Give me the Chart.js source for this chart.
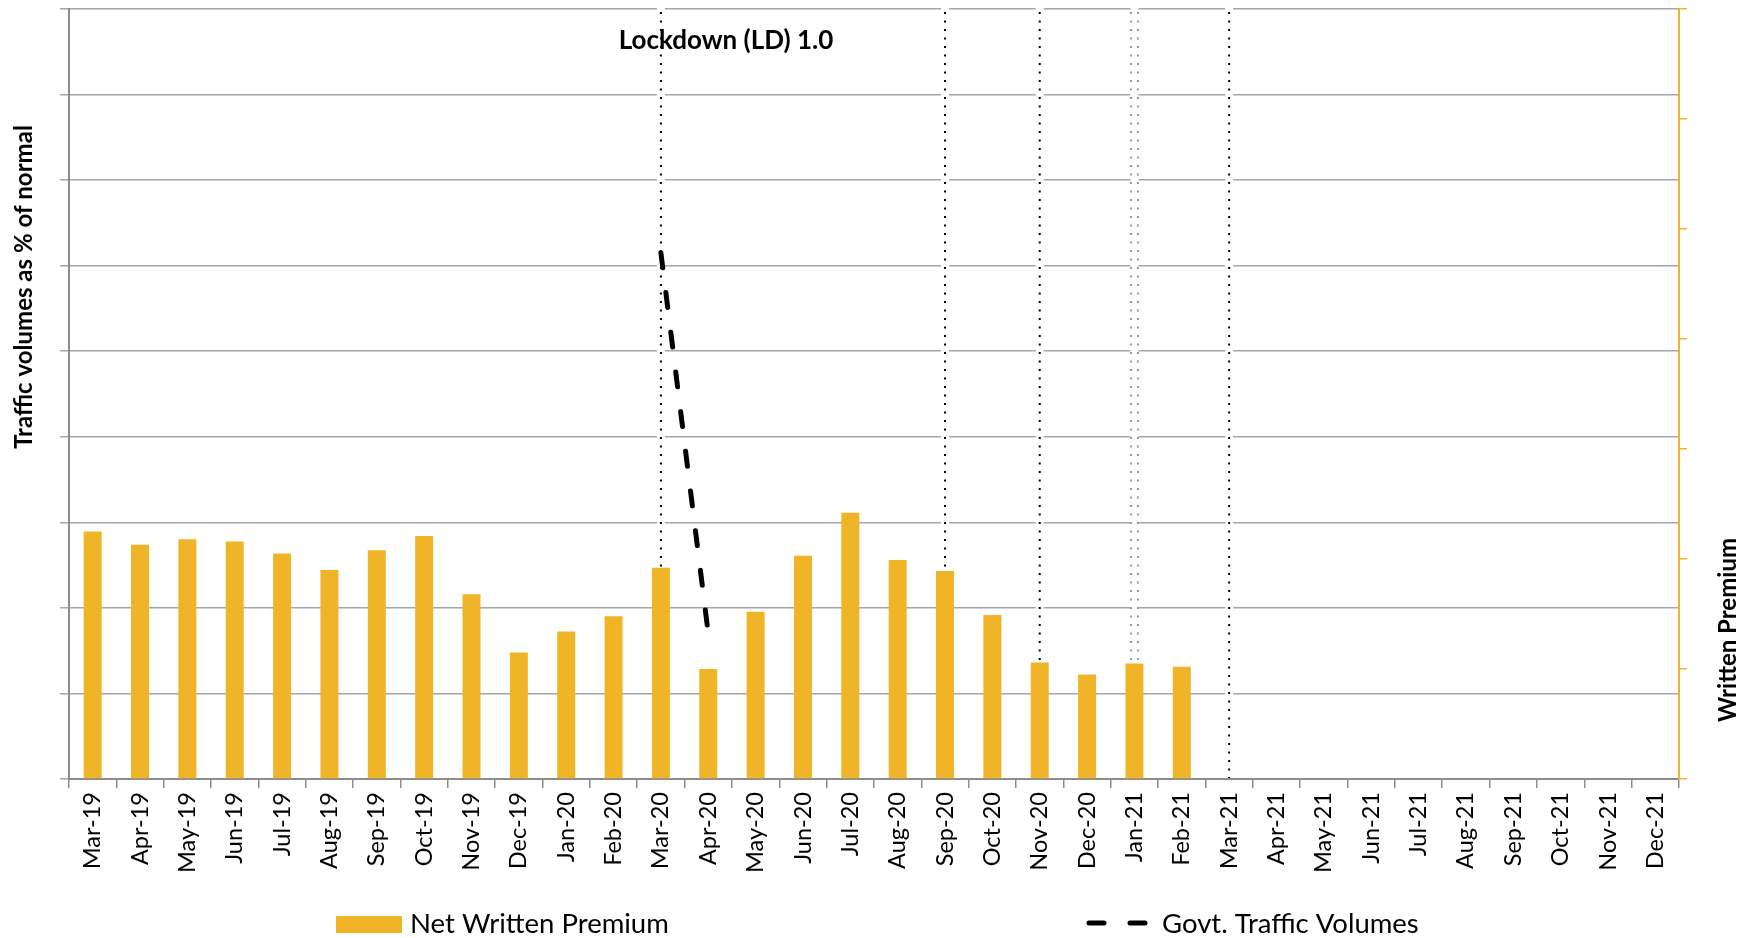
<!DOCTYPE html>
<html>
<head>
<meta charset="utf-8">
<script src="https://cdn.jsdelivr.net/npm/chart.js@4.4.1/dist/chart.umd.min.js"></script>
<style>
  html, body { margin: 0; padding: 0; background: #ffffff; }
  #wrap { position: relative; width: 1746px; height: 938px; }
</style>
</head>
<body>
<div id="wrap"><canvas id="chart"></canvas></div>
<script>
// Monthly categories, Mar-19 to Dec-21
const months = [
  'Mar-19','Apr-19','May-19','Jun-19','Jul-19','Aug-19','Sep-19','Oct-19','Nov-19','Dec-19',
  'Jan-20','Feb-20','Mar-20','Apr-20','May-20','Jun-20','Jul-20','Aug-20','Sep-20','Oct-20',
  'Nov-20','Dec-20','Jan-21','Feb-21','Mar-21','Apr-21','May-21','Jun-21','Jul-21','Aug-21',
  'Sep-21','Oct-21','Nov-21','Dec-21'
];

// Net written premium (right axis)
const netWrittenPremium = [
  22.5, 21.3, 21.8, 21.6, 20.5, 19.0, 20.8, 22.1, 16.8, 11.5,
  13.4, 14.8, 19.2, 10.0, 15.2, 20.3, 24.2, 19.9, 18.9, 14.9,
  10.6, 9.5, 10.5, 10.2, null, null, null, null, null, null,
  null, null, null, null
];

// Government traffic volumes as % of normal (left axis)
const govtTraffic = [
  null, null, null, null, null, null, null, null, null, null,
  null, null, 123, 34, null, null, null, null, null, null,
  null, null, null, null, null, null, null, null, null, null,
  null, null, null, null
];

// Axis ranges (labels hidden)
const trafficAxis = { min: 0, max: 180, step: 20 };
const premiumAxis = { min: 0, max: 70, step: 10 };

// Months marked with vertical dotted reference lines
const markerMonths = ['Mar-20', 'Sep-20', 'Nov-20', 'Jan-21', 'Mar-21'];

const FONT = 'Lato, "Open Sans", sans-serif';
const BAR_COLOR = '#F0B428';
const GRID = '#A6A6A6';
const AXIS = '#8C8C8C';

Chart.defaults.font.family = FONT;
Chart.defaults.color = '#000000';

const decorations = {
  id: 'decorations',
  beforeDatasetsDraw(chart) {
    const { ctx, chartArea, scales } = chart;
    const x = scales.x, yR = scales.yR;
    ctx.save();
    markerMonths.forEach(m => {
      const i = months.indexOf(m);
      const px = x.getPixelForValue(i);
      const v = netWrittenPremium[i];
      const bottom = (v == null) ? chartArea.bottom - 1 : yR.getPixelForValue(v);
      const top = chartArea.top;
      // white backing strip interrupts the gridlines
      ctx.fillStyle = '#ffffff';
      ctx.fillRect(px - 4, top - 1, 8, bottom - top + 1);
      ctx.lineWidth = 2;
      ctx.lineCap = 'butt';
      ctx.setLineDash([2, 6.5]);
      if (m === 'Jan-21') {
        ctx.strokeStyle = '#9a9a9a';
        [-3.5, 3.5].forEach(off => {
          ctx.beginPath();
          ctx.moveTo(px + off, top + 3);
          ctx.lineTo(px + off, bottom);
          ctx.stroke();
        });
      } else {
        ctx.strokeStyle = '#000000';
        ctx.beginPath();
        ctx.moveTo(px, top + 3);
        ctx.lineTo(px, bottom);
        ctx.stroke();
      }
    });
    ctx.restore();
  },
  afterDraw(chart) {
    const { ctx } = chart;
    ctx.save();
    ctx.fillStyle = '#000000';
    ctx.textAlign = 'center';
    ctx.textBaseline = 'middle';

    // Annotation label
    ctx.font = 'bold 26px ' + FONT;
    ctx.fillText('Lockdown (LD) 1.0', 726, 41);

    // Axis titles
    ctx.font = 'bold 24px ' + FONT;
    ctx.save();
    ctx.translate(24, 287);
    ctx.rotate(-Math.PI / 2);
    ctx.fillText('Traffic volumes as % of normal', 0, 0);
    ctx.restore();

    ctx.save();
    ctx.translate(1728, 630);
    ctx.rotate(-Math.PI / 2);
    ctx.fillText('Written Premium', 0, 0);
    ctx.restore();

    // Legend
    const ds0 = chart.data.datasets[0], ds1 = chart.data.datasets[1];
    ctx.fillStyle = ds0.backgroundColor;
    ctx.fillRect(336, 916, 66, 17);
    ctx.fillStyle = '#000000';
    ctx.textAlign = 'left';
    ctx.font = '27.5px ' + FONT;
    ctx.fillText(ds0.label, 410, 924);

    ctx.strokeStyle = ds1.borderColor;
    ctx.lineWidth = 5;
    ctx.lineCap = 'round';
    ctx.setLineDash([15, 26]);
    ctx.beginPath();
    ctx.moveTo(1089, 923);
    ctx.lineTo(1150, 923);
    ctx.stroke();
    ctx.setLineDash([]);
    ctx.fillText(ds1.label, 1162, 924);
    ctx.restore();
  }
};

new Chart(document.getElementById('chart'), {
  type: 'bar',
  data: {
    labels: months,
    datasets: [
      {
        type: 'bar',
        label: 'Net Written Premium',
        data: netWrittenPremium,
        yAxisID: 'yR',
        backgroundColor: BAR_COLOR,
        borderWidth: 0,
        barPercentage: 0.38,
        categoryPercentage: 1.0,
        order: 2
      },
      {
        type: 'line',
        label: 'Govt. Traffic Volumes',
        data: govtTraffic,
        yAxisID: 'yL',
        borderColor: '#000000',
        borderWidth: 5,
        borderDash: [15, 25],
        borderCapStyle: 'round',
        pointRadius: 0,
        fill: false,
        spanGaps: false,
        order: 1
      }
    ]
  },
  options: {
    responsive: true,
    maintainAspectRatio: false,
    animation: false,
    devicePixelRatio: 1,
    layout: { padding: { top: 9, left: 0, right: 0, bottom: 0 } },
    plugins: {
      legend: { display: false },
      tooltip: { enabled: false }
    },
    scales: {
      x: {
        offset: true,
        grid: {
          offset: true,
          drawOnChartArea: false,
          drawTicks: true,
          tickLength: 9,
          color: AXIS,
          lineWidth: 1.5
        },
        border: { color: AXIS, width: 2 },
        ticks: {
          autoSkip: false,
          minRotation: 90,
          maxRotation: 90,
          padding: 4,
          font: { size: 23.5 },
          color: '#000000'
        },
        afterFit(scale) { scale.height = 159; }
      },
      yL: {
        position: 'left',
        min: trafficAxis.min,
        max: trafficAxis.max,
        ticks: { stepSize: trafficAxis.step, display: false },
        grid: {
          color: GRID,
          lineWidth: 1.5,
          drawTicks: true,
          tickLength: 9
        },
        border: { color: AXIS, width: 2 },
        afterFit(scale) { scale.width = 69; }
      },
      yR: {
        position: 'right',
        min: premiumAxis.min,
        max: premiumAxis.max,
        ticks: { stepSize: premiumAxis.step, display: false },
        grid: {
          drawOnChartArea: false,
          drawTicks: true,
          tickLength: 8,
          color: BAR_COLOR,
          lineWidth: 1.5
        },
        border: { color: BAR_COLOR, width: 2 },
        afterFit(scale) { scale.width = 67; }
      }
    }
  },
  plugins: [decorations]
});
</script>
</body>
</html>
